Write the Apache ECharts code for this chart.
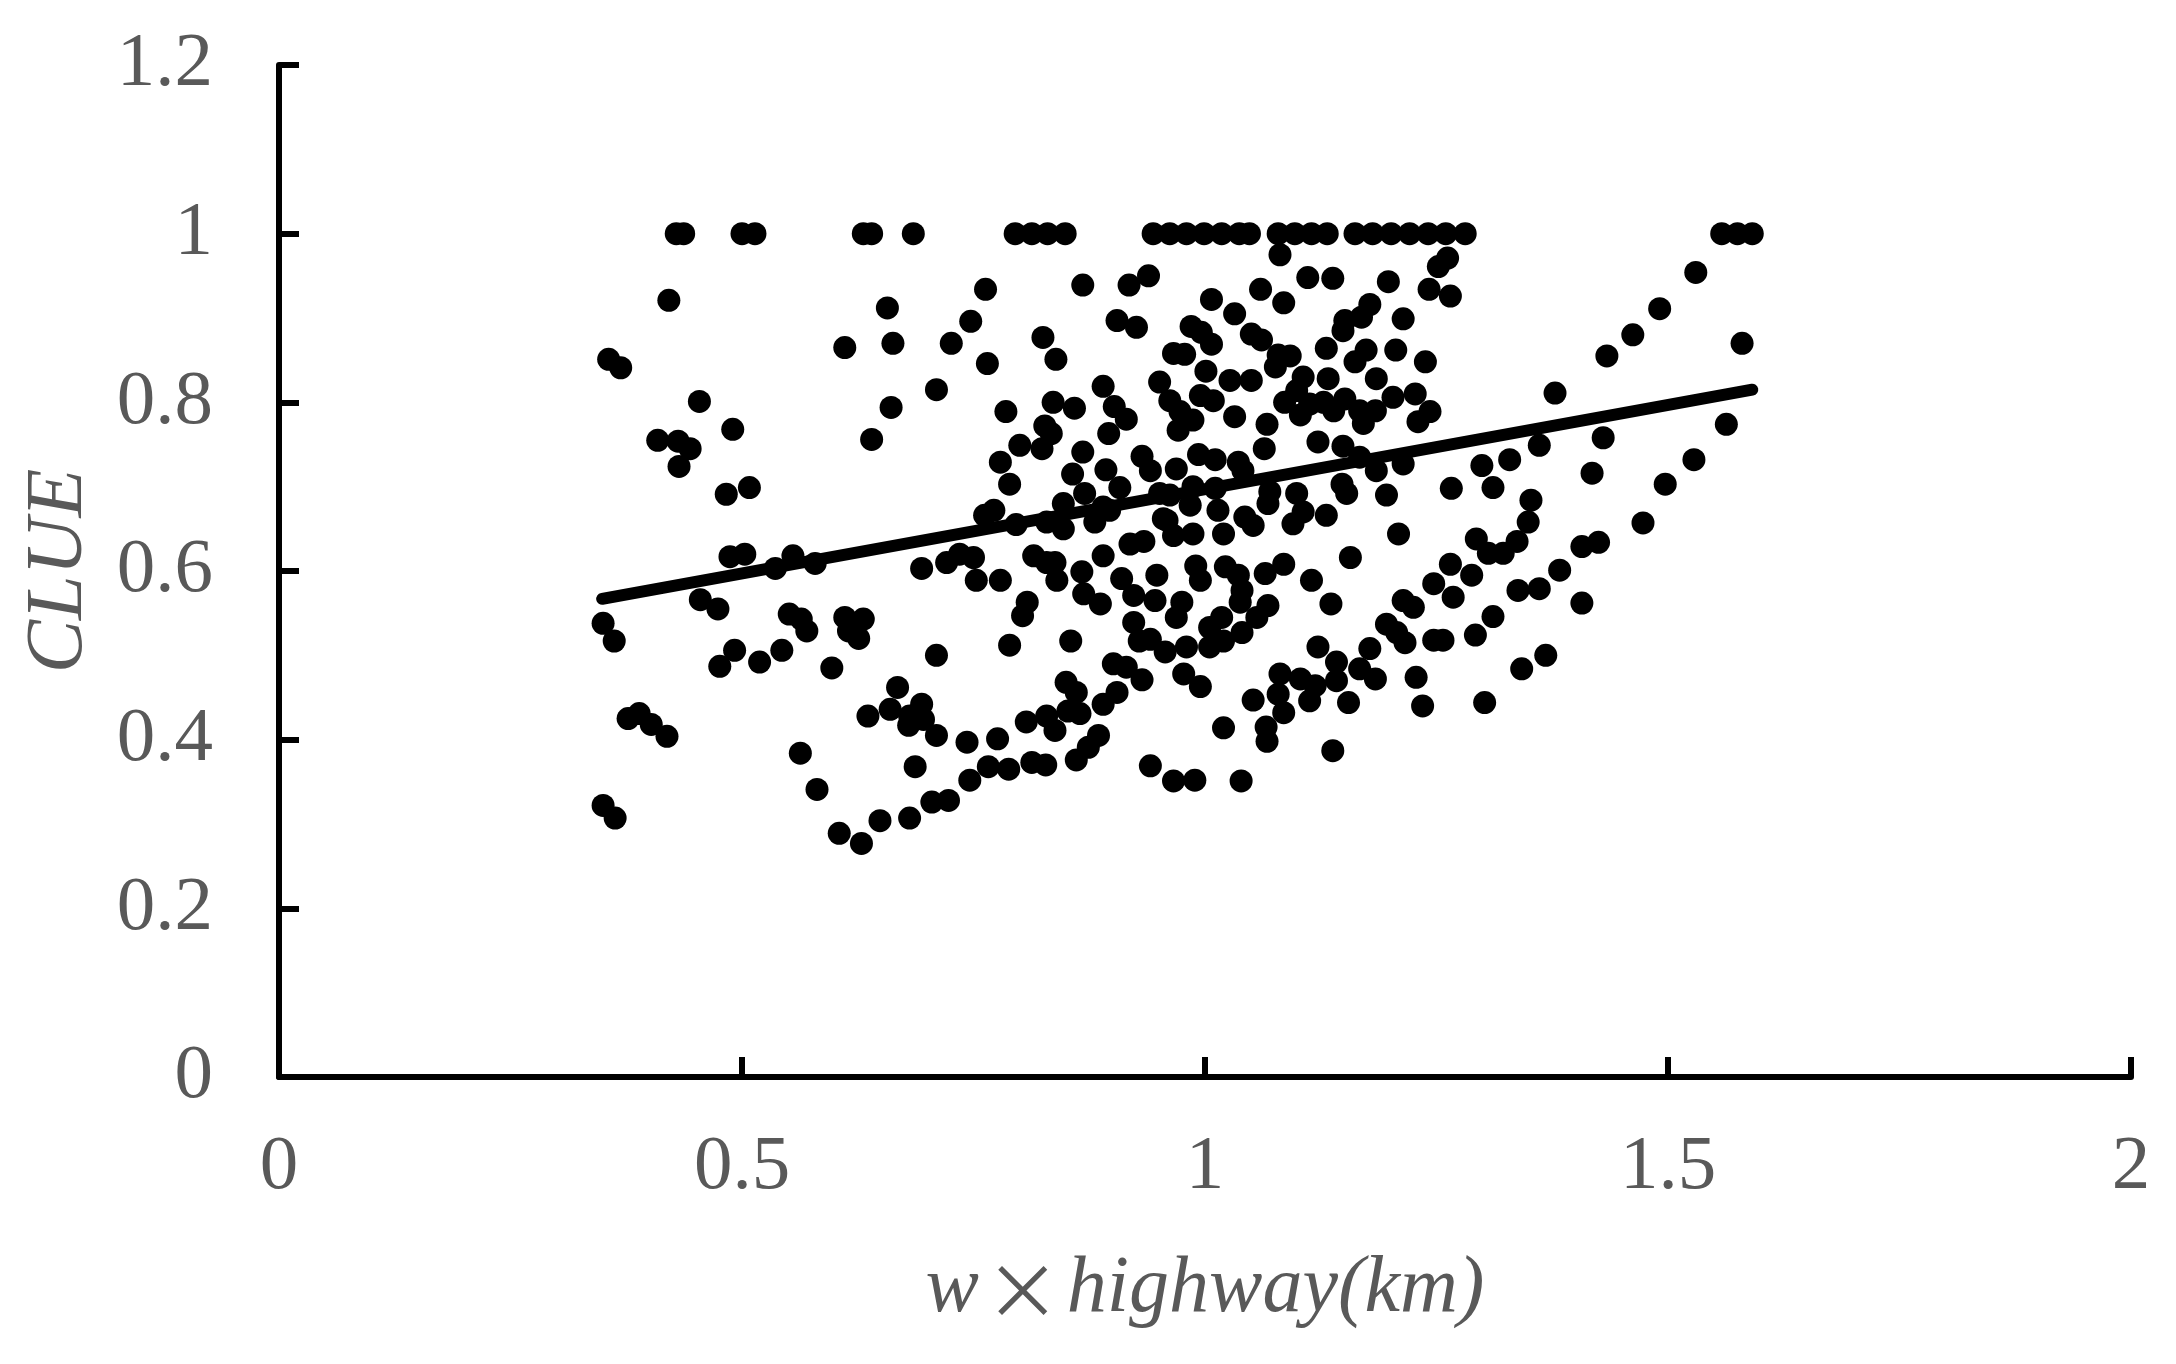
<!DOCTYPE html>
<html>
<head>
<meta charset="utf-8">
<script src="https://cdn.jsdelivr.net/npm/echarts@6/dist/echarts.min.js"></script>
<style>
  html, body { margin: 0; padding: 0; background: #fff; }
  #main { width: 2176px; height: 1364px; }
</style>
</head>
<body>
<div id="main"></div>
<script>
// 坐标轴刻度
var xTicks = [0, 0.5, 1, 1.5, 2];
var yTicks = [0, 0.2, 0.4, 0.6, 0.8, 1, 1.2];

// CLUE = 1 的那一排点 (只有横坐标)
var topRowX = [0.429, 0.437, 0.500, 0.514, 0.631, 0.640, 0.685, 0.795, 0.813, 0.830, 0.849,
  0.944, 0.962, 0.980, 0.999, 1.018, 1.037, 1.048, 1.079, 1.097, 1.115, 1.132,
  1.162, 1.181, 1.201, 1.221, 1.241, 1.260, 1.281, 1.558, 1.575, 1.591];

// 左侧 (x < 0.65)
var leftPoints = [
  [0.421, 0.921], [0.611, 0.865], [0.356, 0.851], [0.369, 0.841], [0.454, 0.801], [0.490, 0.768],
  [0.409, 0.755], [0.431, 0.754], [0.444, 0.745], [0.432, 0.724], [0.483, 0.691], [0.508, 0.699],
  [0.640, 0.756], [0.487, 0.617], [0.503, 0.620], [0.536, 0.603], [0.555, 0.618], [0.579, 0.609],
  [0.455, 0.566], [0.474, 0.555], [0.551, 0.549], [0.564, 0.543], [0.570, 0.529], [0.611, 0.545],
  [0.631, 0.543], [0.615, 0.529], [0.626, 0.520], [0.350, 0.538], [0.362, 0.517], [0.476, 0.487],
  [0.492, 0.506], [0.519, 0.492], [0.543, 0.506], [0.597, 0.485], [0.377, 0.425], [0.389, 0.431],
  [0.402, 0.418], [0.419, 0.404], [0.636, 0.428], [0.563, 0.384], [0.581, 0.341], [0.350, 0.322],
  [0.363, 0.307], [0.605, 0.289], [0.629, 0.277], [0.649, 0.304]
];

// 中左 (0.65 - 0.96)
var midLeftPoints = [
  [0.763, 0.934], [0.868, 0.939], [0.918, 0.939], [0.939, 0.950], [0.657, 0.912], [0.747, 0.896],
  [0.905, 0.897], [0.926, 0.889], [0.663, 0.870], [0.726, 0.870], [0.825, 0.877], [0.839, 0.851],
  [0.765, 0.846], [0.710, 0.815], [0.890, 0.819], [0.951, 0.824], [0.661, 0.794], [0.785, 0.789],
  [0.836, 0.800], [0.859, 0.793], [0.902, 0.795], [0.915, 0.780], [0.827, 0.772], [0.834, 0.763],
  [0.800, 0.749], [0.824, 0.745], [0.896, 0.763], [0.779, 0.729], [0.868, 0.741], [0.932, 0.736],
  [0.941, 0.719], [0.857, 0.715], [0.893, 0.720], [0.789, 0.703], [0.908, 0.699], [0.870, 0.692],
  [0.847, 0.680], [0.890, 0.676], [0.951, 0.692], [0.955, 0.662], [0.762, 0.666], [0.772, 0.672],
  [0.796, 0.655], [0.829, 0.658], [0.847, 0.650], [0.881, 0.658], [0.897, 0.672],
  [0.919, 0.632], [0.934, 0.635], [0.890, 0.618], [0.694, 0.603], [0.721, 0.610], [0.735, 0.620],
  [0.750, 0.616], [0.753, 0.589], [0.779, 0.589], [0.815, 0.618], [0.829, 0.610], [0.838, 0.610],
  [0.840, 0.589], [0.867, 0.599], [0.869, 0.573], [0.887, 0.561], [0.910, 0.591], [0.923, 0.571],
  [0.948, 0.595], [0.946, 0.565], [0.808, 0.563], [0.803, 0.547], [0.855, 0.517], [0.923, 0.539],
  [0.929, 0.517], [0.941, 0.519], [0.789, 0.512], [0.710, 0.500], [0.901, 0.490], [0.915, 0.486],
  [0.932, 0.471], [0.850, 0.468], [0.861, 0.456], [0.865, 0.431], [0.905, 0.456], [0.890, 0.442],
  [0.668, 0.462], [0.660, 0.436], [0.681, 0.428], [0.694, 0.442], [0.696, 0.424], [0.680, 0.417],
  [0.710, 0.405], [0.743, 0.397], [0.776, 0.401], [0.807, 0.421], [0.829, 0.428], [0.838, 0.411],
  [0.852, 0.434], [0.885, 0.405], [0.874, 0.391], [0.861, 0.376], [0.687, 0.368], [0.746, 0.352],
  [0.766, 0.368], [0.788, 0.365], [0.813, 0.373], [0.828, 0.370], [0.941, 0.369], [0.705, 0.326],
  [0.723, 0.328], [0.681, 0.307]
];

// 中右 (0.96 - 1.27)
var midRightPoints = [
  [1.081, 0.975], [1.111, 0.948], [1.138, 0.947], [1.198, 0.943], [1.262, 0.971], [1.252, 0.961],
  [1.242, 0.934], [1.265, 0.926], [1.060, 0.934], [1.007, 0.922], [1.085, 0.918], [1.032, 0.905],
  [1.178, 0.916], [1.169, 0.901], [1.151, 0.897], [1.149, 0.885], [1.214, 0.899], [0.985, 0.890],
  [0.996, 0.883], [1.007, 0.869], [1.050, 0.881], [1.061, 0.874], [0.966, 0.858], [0.978, 0.857],
  [1.079, 0.856], [1.092, 0.855], [1.076, 0.842], [1.131, 0.864], [1.174, 0.862], [1.162, 0.848],
  [1.206, 0.862], [1.238, 0.848], [1.001, 0.837], [1.027, 0.826], [1.050, 0.826], [1.106, 0.830],
  [1.099, 0.814], [1.133, 0.828], [1.185, 0.828], [0.995, 0.808], [1.009, 0.802], [0.962, 0.802],
  [1.086, 0.800], [1.113, 0.798], [1.128, 0.800], [1.151, 0.804], [1.167, 0.790], [1.184, 0.790],
  [1.203, 0.806], [1.227, 0.810], [1.243, 0.789], [1.230, 0.777], [1.171, 0.775], [1.103, 0.785],
  [1.139, 0.790], [0.973, 0.789], [0.987, 0.779], [0.971, 0.767], [1.032, 0.783], [1.067, 0.774],
  [1.122, 0.753], [1.149, 0.748], [1.064, 0.745], [0.993, 0.738], [1.011, 0.732], [1.036, 0.729],
  [1.041, 0.719], [0.969, 0.721], [1.214, 0.727], [1.167, 0.735], [1.185, 0.719], [1.266, 0.698],
  [0.987, 0.700], [1.011, 0.698], [0.962, 0.690], [0.984, 0.678], [1.014, 0.672], [1.043, 0.664],
  [1.070, 0.694], [1.068, 0.680], [1.099, 0.692], [1.106, 0.670], [1.131, 0.666], [1.148, 0.703],
  [1.153, 0.692], [1.196, 0.690], [1.052, 0.654], [0.959, 0.660], [0.987, 0.644], [1.020, 0.644],
  [1.209, 0.644], [0.966, 0.642], [1.095, 0.656], [1.157, 0.616], [1.265, 0.608], [1.247, 0.585],
  [1.268, 0.569], [1.214, 0.565], [1.225, 0.557], [1.196, 0.537], [1.207, 0.527], [1.216, 0.515],
  [1.247, 0.518], [1.257, 0.518], [1.228, 0.474], [1.235, 0.440], [1.178, 0.508], [1.122, 0.510],
  [1.115, 0.589], [1.136, 0.561], [0.990, 0.606], [0.995, 0.589], [1.022, 0.605], [1.036, 0.595],
  [1.040, 0.577], [1.038, 0.563], [1.065, 0.597], [1.085, 0.608], [0.975, 0.563], [0.969, 0.545],
  [1.068, 0.559], [1.056, 0.545], [1.018, 0.545], [1.005, 0.533], [1.040, 0.527], [1.020, 0.517],
  [1.005, 0.510], [0.957, 0.504], [0.980, 0.510], [0.977, 0.478], [0.995, 0.463], [1.081, 0.478],
  [1.103, 0.472], [1.119, 0.464], [1.142, 0.492], [1.142, 0.470], [1.167, 0.484], [1.184, 0.472],
  [1.079, 0.454], [1.085, 0.432], [1.113, 0.446], [1.155, 0.444], [1.052, 0.447], [1.020, 0.414],
  [1.066, 0.415], [1.067, 0.398], [1.138, 0.387], [0.966, 0.351], [0.989, 0.352], [1.039, 0.351]
];

// 右侧 (x > 1.27)
var rightPoints = [
  [1.530, 0.954], [1.491, 0.911], [1.462, 0.880], [1.434, 0.855], [1.580, 0.870], [1.378, 0.811],
  [1.563, 0.774], [1.430, 0.758], [1.361, 0.749], [1.528, 0.732], [1.299, 0.725], [1.329, 0.732],
  [1.311, 0.699], [1.418, 0.716], [1.497, 0.703], [1.352, 0.684], [1.349, 0.658], [1.473, 0.657],
  [1.293, 0.638], [1.337, 0.635], [1.306, 0.621], [1.322, 0.621], [1.407, 0.629], [1.425, 0.634],
  [1.288, 0.595], [1.383, 0.601], [1.338, 0.577], [1.361, 0.579], [1.407, 0.562], [1.311, 0.546],
  [1.292, 0.524], [1.368, 0.500], [1.342, 0.484], [1.302, 0.444]
];

// 趋势线两端
var trendX = [0.349, 1.591];
var trendY = [0.567, 0.815];

// 组装散点数据
var scatterData = [];
for (var x of topRowX) {
    scatterData.push([x, 1]);
}
scatterData = scatterData.concat(leftPoints, midLeftPoints, midRightPoints, rightPoints);

var trendData = [];
for (var i = 0; i < trendX.length; i++) {
    trendData.push([trendX[i], trendY[i]]);
}

var serif = "'Liberation Serif', 'Times New Roman', serif";
var grey = '#595959';

var chart = echarts.init(document.getElementById('main'), null, { renderer: 'canvas' });

var option = {
    animation: false,
    backgroundColor: '#ffffff',
    grid: {
        left: 279,
        right: 45,
        top: 65,
        bottom: 287,
        containLabel: false
    },
    xAxis: {
        type: 'value',
        min: xTicks[0],
        max: xTicks[xTicks.length - 1],
        interval: xTicks[1] - xTicks[0],
        name: '{i|w}{m|×}{i|highway(km)}',
        nameLocation: 'middle',
        nameGap: 173,
        nameTextStyle: {
            rich: {
                i: { fontFamily: serif, fontStyle: 'italic', fontSize: 80, color: grey },
                m: { fontFamily: "'Noto Sans CJK SC', sans-serif", fontSize: 76, color: grey, padding: [0, 6, 0, 6] }
            }
        },
        axisLine: { show: true, lineStyle: { color: '#000', width: 6 } },
        axisTick: { show: true, inside: true, length: 20, lineStyle: { color: '#000', width: 6 } },
        splitLine: { show: false },
        axisLabel: { color: grey, fontFamily: serif, fontSize: 77, margin: 52 }
    },
    yAxis: {
        type: 'value',
        min: yTicks[0],
        max: yTicks[yTicks.length - 1],
        interval: yTicks[1] - yTicks[0],
        name: 'CLUE',
        nameLocation: 'middle',
        nameRotate: 90,
        nameGap: 179,
        nameTextStyle: { fontFamily: serif, fontStyle: 'italic', fontSize: 80, color: grey },
        axisLine: { show: true, lineStyle: { color: '#000', width: 6 } },
        axisTick: { show: true, inside: true, length: 20, lineStyle: { color: '#000', width: 6 } },
        splitLine: { show: false },
        axisLabel: { color: grey, fontFamily: serif, fontSize: 77, margin: 66 }
    },
    series: [{
        type: 'scatter',
        data: scatterData,
        symbol: 'circle',
        symbolSize: 23,
        itemStyle: { color: '#000', opacity: 1 },
        emphasis: { disabled: true },
        z: 2
    }, {
        type: 'line',
        data: trendData,
        symbol: 'none',
        lineStyle: { color: '#000', width: 12, cap: 'round' },
        emphasis: { disabled: true },
        z: 3
    }]
};

chart.setOption(option);
</script>
</body>
</html>
